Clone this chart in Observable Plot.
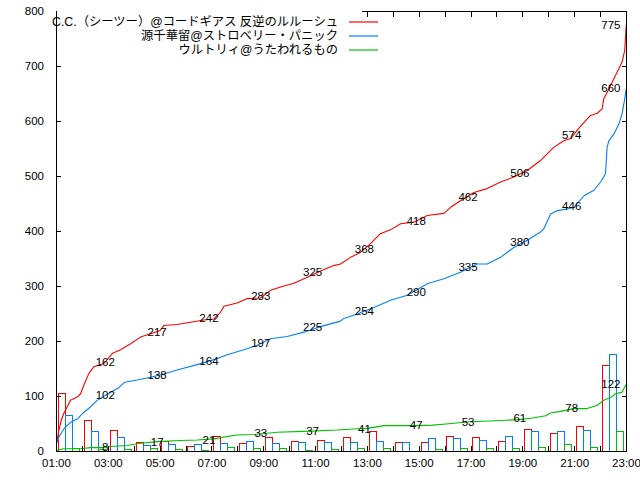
<!DOCTYPE html>
<html><head><meta charset="utf-8">
<script src="https://cdn.jsdelivr.net/npm/d3@7"></script>
<script src="https://cdn.jsdelivr.net/npm/@observablehq/plot@0.6"></script>
<style>body{margin:0;background:#fff}svg{display:block}</style>
</head><body><div id="chart"></div>
<script>
// ---- data ----
const seriesNames = ["C.C.（シーツー）@コードギアス 反逆のルルーシュ", "源千華留@ストロベリー・パニック", "ウルトリィ@うたわれるもの"];
const seriesColors = ["#ff0000", "#0080ff", "#00c000"];

const barHours = [1,2,3,4,5,6,7,8,9,10,11,12,13,14,15,16,17,18,19,20,21,22];
const redBars   = [105,56,38,16,17,8,27,14,24,18,20,24,36,15,16,27,25,18,39,31,45,155];
const blueBars  = [65,36,25,10,12,12,14,18,13,15,15,15,18,16,22,22,20,27,35,35,38,175];
const greenBars = [5,3,3,5,2,1,7,4,4,1,2,4,5,0,2,4,4,5,7,11,7,36];

const redT = [1.0,1.09,1.18,1.28,1.41,1.54,1.8,1.93,2.05,2.25,2.44,2.83,3.15,3.47,3.86,4.24,4.63,5.0,5.14,5.66,6.17,6.69,7.07,7.33,7.46,7.97,8.36,8.87,9.26,9.65,10.16,10.68,11.19,11.7,11.96,12.35,12.73,13.12,13.5,13.89,14.28,14.79,15.31,15.95,16.21,16.59,17.11,17.62,18.14,18.65,19.17,19.68,20.19,20.58,20.84,21.22,21.61,21.87,22.06,22.12,22.32,22.64,22.83,22.93,22.99];
const redV = [15,38,56,69,81,93,99,105,120,142,154,160,178,185,196,208,214,220,229,231,235,239,241,253,264,270,278,279,293,299,306,317,328,338,341,353,362,378,396,403,414,417,429,433,444,456,471,478,490,499,511,529,553,565,569,591,611,615,623,641,659,690,708,729,775];

const blueT = [1.0,1.09,1.28,1.54,1.8,2.05,2.31,2.57,2.96,3.21,3.4,3.64,4.11,4.63,5.14,5.79,6.43,7.07,7.59,8.23,8.75,9.26,9.9,10.55,11.19,11.96,12.09,12.61,13.25,13.89,14.54,15.31,15.95,16.59,17.23,17.62,18.14,18.65,19.17,19.68,19.81,20.07,20.33,20.71,20.97,21.36,21.74,22.0,22.19,22.25,22.32,22.51,22.71,22.83,22.92,22.99];
const blueV = [14,26,41,53,59,71,81,93,104,111,116,126,130,135,141,150,158,167,176,185,193,205,209,217,227,237,242,250,262,275,284,305,314,326,341,341,353,371,384,399,405,432,438,441,444,465,475,490,505,553,565,577,596,614,638,660];

const greenT = [1.0,1.27,1.93,2.31,2.7,3.08,3.73,4.24,4.89,5.79,6.43,7.07,7.94,8.62,9.52,10.81,11.84,12.48,13.0,13.64,15.0,15.51,16.03,16.93,17.96,18.86,19.37,19.88,20.07,20.45,20.97,21.48,21.87,22.12,22.38,22.58,22.83,22.96,23.0];
const greenV = [2,5,5,7,7,9,11,15,18,20,21,23,30,31,35,37,39,41,42,47,47,48,50,54,56,58,61,65,70,73,78,78,84,93,98,105,108,120,122];

const labelHours  = [3,5,7,9,11,13,15,17,19,21,23];
const redLabels   = [162,217,242,283,325,368,418,462,506,574,775];
const blueLabels  = [102,138,164,197,225,254,290,335,380,446,660];
const greenLabels = [8,17,21,33,37,41,47,53,61,78,122];

const xTickHours  = [1,3,5,7,9,11,13,15,17,19,21,23];
const xTickLabels = ["01:00","03:00","05:00","07:00","09:00","11:00","13:00","15:00","17:00","19:00","21:00","23:00"];
const allHours = [1,2,3,4,5,6,7,8,9,10,11,12,13,14,15,16,17,18,19,20,21,22,23];
const yTicks = [0,100,200,300,400,500,600,700,800];

// ---- build tables ----
const barSets = [redBars, blueBars, greenBars].map(vals => barHours.map((h, i) => ({hour: h, v: vals[i]})));
const lineSets = [[redT, redV], [blueT, blueV], [greenT, greenV]].map(([T, V]) => T.map((t, i) => ({t, v: V[i]})));
const labelSets = [redLabels, blueLabels, greenLabels].map(L => labelHours.map((h, i) => ({hour: h, v: L[i]})));
const allLabels = labelSets.flat();

const pxPerHour = 570 / 22;
const barInsets = [[2.3, pxPerHour - 9.3], [9.3, pxPerHour - 16.3], [16.3, pxPerHour - 23.3]];

const marks = [];
barSets.forEach((data, s) => {
  marks.push(Plot.rectY(data, {x1: "hour", x2: d => d.hour + 1, y1: 0, y2: "v",
    insetLeft: barInsets[s][0], insetRight: barInsets[s][1],
    fill: "none", stroke: seriesColors[s], strokeWidth: 1, shapeRendering: "crispEdges"}));
});
lineSets.forEach((data, s) => {
  marks.push(Plot.line(data, {x: "t", y: "v", stroke: seriesColors[s], strokeWidth: 1.1}));
});
marks.push(Plot.text(allLabels.filter(d => d.hour < 23), {x: "hour", y: "v", text: d => String(d.v), dx: -3, fill: "black"}));
marks.push(Plot.text(allLabels.filter(d => d.hour === 23), {x: "hour", y: "v", text: d => String(d.v), textAnchor: "end", dx: -6, fill: "black"}));
marks.push(Plot.frame({stroke: "black", strokeWidth: 1, shapeRendering: "crispEdges"}));
marks.push(Plot.axisY(yTicks, {anchor: "left", label: null, tickSize: -5, tickPadding: 17.5, tickFormat: d => String(d), stroke: "black", fill: "black", shapeRendering: "crispEdges"}));
marks.push(Plot.axisY(yTicks, {anchor: "right", label: null, tickSize: -5, tickFormat: () => "", stroke: "black", shapeRendering: "crispEdges"}));
marks.push(Plot.axisX(allHours, {anchor: "top", label: null, tickSize: -5, tickFormat: () => "", stroke: "black", shapeRendering: "crispEdges"}));
marks.push(Plot.axisX(allHours, {anchor: "bottom", label: null, tickSize: -5, tickFormat: () => "", stroke: "black", shapeRendering: "crispEdges"}));
marks.push(Plot.axisX(xTickHours, {anchor: "bottom", label: null, tickSize: 0, tickPadding: 7, tickFormat: d => xTickLabels[xTickHours.indexOf(d)], fill: "black"}));

const chart = Plot.plot({
  width: 640, height: 480,
  marginLeft: 56, marginRight: 14, marginTop: 11, marginBottom: 29,
  style: {fontFamily: "'Liberation Sans', Arial, sans-serif", fontSize: "11.5px", background: "#fff", color: "black"},
  x: {domain: [1, 23], label: null},
  y: {domain: [0, 800], label: null},
  marks
});
document.getElementById("chart").appendChild(chart);

// ---- key (legend) ----
const svg = d3.select(chart);
const key = svg.append("g");
key.append("rect").attr("x", 57).attr("y", 9).attr("width", 305).attr("height", 50).attr("fill", "#fff");
const rowY = [22, 36, 50];
seriesNames.forEach((name, i) => {
  key.append("text").attr("x", 338).attr("y", rowY[i]).attr("text-anchor", "end")
    .attr("dominant-baseline", "central")
    .attr("font-family", "'Liberation Sans', 'Noto Sans CJK JP', sans-serif").attr("font-size", "12.3px")
    .attr("fill", "black").text(name);
  key.append("line").attr("x1", 349).attr("x2", 378).attr("y1", rowY[i]).attr("y2", rowY[i])
    .attr("stroke", seriesColors[i]).attr("stroke-width", 1.2);
});
</script>
</body></html>
